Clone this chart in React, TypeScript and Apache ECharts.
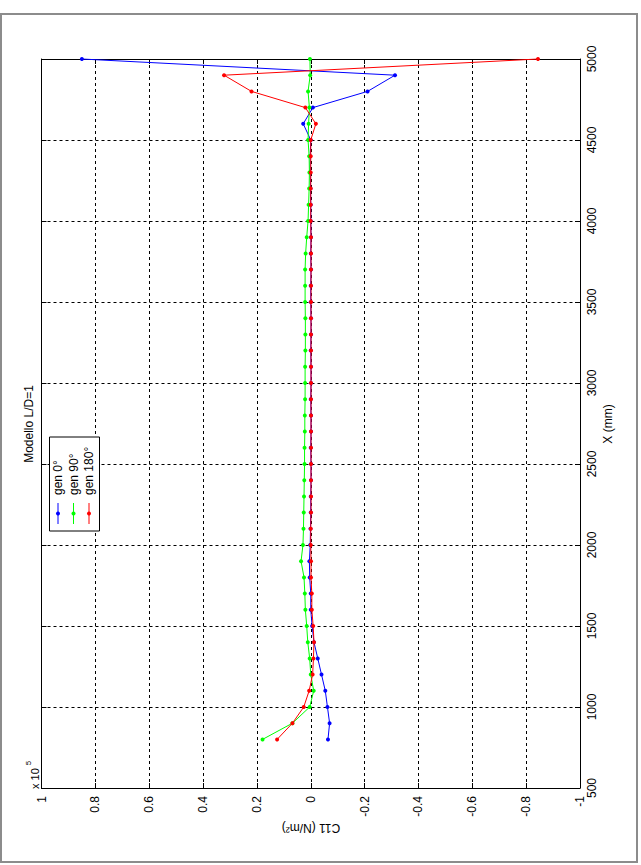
import React, { useEffect, useRef } from "react";
import * as echarts from "echarts";

// Position along the model, X (mm)
const X_MM = [
  800, 900, 1000, 1100, 1200, 1300, 1400, 1500, 1600, 1700, 1800, 1900, 2000,
  2100, 2200, 2300, 2400, 2500, 2600, 2700, 2800, 2900, 3000, 3100, 3200, 3300,
  3400, 3500, 3600, 3700, 3800, 3900, 4000, 4100, 4200, 4300, 4400, 4500, 4600,
  4700, 4800, 4900, 5000,
];

// C11 (N/m^2) x 10^5
const GEN0 = [
  -0.064, -0.07, -0.062, -0.054, -0.04, -0.026, -0.012, -0.005, 0.0, 0.0, 0.004,
  0.005, 0.002, 0.001, 0.0, 0.0, -0.001, -0.001, 0.0, -0.001, -0.001, 0.0,
  -0.001, -0.001, 0.0, -0.001, -0.001, 0.0, 0.0, -0.001, 0.0, -0.001, 0.0, 0.0,
  0.001, 0.002, 0.002, 0.0, 0.028, -0.008, -0.211, -0.313, 0.85,
];

const GEN90 = [
  0.179, 0.068, 0.004, -0.011, 0.0, 0.004, 0.011, 0.015, 0.02, 0.022, 0.025,
  0.036, 0.029, 0.027, 0.026, 0.025, 0.024, 0.023, 0.023, 0.022, 0.022, 0.021,
  0.021, 0.021, 0.02, 0.02, 0.02, 0.021, 0.021, 0.021, 0.019, 0.015, 0.01,
  0.008, 0.006, 0.005, 0.006, 0.01, 0.008, 0.005, 0.01, 0.002, 0.003,
];

const GEN180 = [
  0.125, 0.068, 0.026, 0.006, -0.007, -0.01, -0.012, -0.009, -0.004, -0.004,
  -0.001, -0.001, 0.0, 0.0, -0.001, -0.001, -0.001, -0.001, -0.001, -0.001,
  -0.001, -0.001, -0.001, -0.001, -0.001, -0.001, -0.001, -0.001, -0.001,
  -0.001, -0.001, -0.001, 0.0, 0.0, 0.0, 0.0, 0.0, 0.0, -0.019, 0.02, 0.22,
  0.322, -0.844,
];

const SERIES_NAMES = ["gen 0°", "gen 90°", "gen 180°"];
const SERIES_COLORS = ["#0000ff", "#00ff00", "#ff0000"];
const SERIES_VALUES = [GEN0, GEN90, GEN180];

const TITLE = "Modello L/D=1";
const X_NAME = "X (mm)";
const C_NAME = "C11 (N/m²)";

const FONT = "'Liberation Sans', Arial, Helvetica, sans-serif";

export default function App() {
  const ref = useRef<HTMLDivElement>(null);

  useEffect(() => {
    if (!ref.current) return;
    const chart = echarts.init(ref.current, undefined, { renderer: "svg" });

    const gridLine = { show: true, lineStyle: { color: "#000", width: 1, type: [3, 3] as any } };
    const axisLineStyle = { show: true, onZero: false, lineStyle: { color: "#000", width: 1 } };
    const tick = { show: true, inside: true, length: 5, lineStyle: { color: "#000" } };

    const legendItems: any[] = [
      { type: "rect", z: 100, shape: { x: 49.5, y: 437, width: 50, height: 94 }, style: { fill: "#fff", stroke: "#000", lineWidth: 1 } },
    ];
    const legendX = [58, 73.5, 89];
    SERIES_NAMES.forEach((name, i) => {
      legendItems.push(
        { type: "line", z: 101, shape: { x1: legendX[i], y1: 503, x2: legendX[i], y2: 524 }, style: { stroke: SERIES_COLORS[i], lineWidth: 1 } },
        { type: "circle", z: 102, shape: { cx: legendX[i], cy: 513.5, r: 2 }, style: { fill: SERIES_COLORS[i] } },
        {
          type: "text",
          z: 102,
          x: legendX[i],
          y: 495,
          rotation: Math.PI / 2,
          style: { text: name, fontSize: 12, fontFamily: FONT, fill: "#000", align: "left", verticalAlign: "middle" },
        }
      );
    });

    chart.setOption({
      animation: false,
      backgroundColor: "#fff",
      grid: { left: 41.5, right: 61, top: 59, bottom: 77, show: false, outerBoundsMode: "none" },
      xAxis: [
        {
          type: "value",
          position: "bottom",
          inverse: true,
          min: -1,
          max: 1,
          interval: 0.2,
          axisLine: axisLineStyle,
          axisTick: tick,
          splitLine: gridLine,
          axisLabel: {
            rotate: 90,
            margin: 8,
            fontSize: 12,
            fontFamily: FONT,
            color: "#000",
            formatter: (v: number) => String(Math.round(v * 10) / 10),
          },
        },
        {
          type: "value",
          position: "top",
          inverse: true,
          min: -1,
          max: 1,
          interval: 0.2,
          axisLine: axisLineStyle,
          axisTick: tick,
          splitLine: { show: false },
          axisLabel: { show: false },
        },
      ],
      yAxis: [
        {
          type: "value",
          position: "right",
          min: 500,
          max: 5000,
          interval: 500,
          axisLine: axisLineStyle,
          axisTick: tick,
          splitLine: gridLine,
          axisLabel: {
            rotate: 90,
            margin: 6,
            fontSize: 12,
            fontFamily: FONT,
            color: "#000",
            formatter: (v: number) => String(Math.round(v)),
          },
        },
        {
          type: "value",
          position: "left",
          min: 500,
          max: 5000,
          interval: 500,
          axisLine: axisLineStyle,
          axisTick: tick,
          splitLine: { show: false },
          axisLabel: { show: false },
        },
      ],
      series: SERIES_VALUES.map((vals, i) => ({
        name: SERIES_NAMES[i],
        type: "line",
        xAxisIndex: 0,
        yAxisIndex: 0,
        data: X_MM.map((x, k) => [vals[k], x]),
        symbol: "circle",
        symbolSize: 4,
        clip: false,
        color: SERIES_COLORS[i],
        lineStyle: { color: SERIES_COLORS[i], width: 1 },
        itemStyle: { color: SERIES_COLORS[i] },
        z: 3 + i,
      })),
      graphic: [
        { type: "rect", z: -1, shape: { x: 1, y: 14, width: 636, height: 848 }, style: { fill: "none", stroke: "#8c8c8c", lineWidth: 2 } },
        {
          type: "text",
          x: 29,
          y: 424,
          rotation: Math.PI / 2,
          style: { text: TITLE, fontSize: 12, fontFamily: FONT, fill: "#000", align: "center", verticalAlign: "middle" },
        },
        {
          type: "text",
          x: 608,
          y: 424,
          rotation: Math.PI / 2,
          style: { text: X_NAME, fontSize: 12, fontFamily: FONT, fill: "#000", align: "center", verticalAlign: "middle" },
        },
        {
          type: "text",
          x: 311,
          y: 828,
          rotation: Math.PI,
          style: { text: C_NAME, fontSize: 12, fontFamily: FONT, fill: "#000", align: "center", verticalAlign: "middle" },
        },
        {
          type: "text",
          x: 35,
          y: 789,
          rotation: Math.PI / 2,
          style: { text: "x 10", fontSize: 11, fontFamily: FONT, fill: "#000", align: "left", verticalAlign: "middle" },
        },
        {
          type: "text",
          x: 28,
          y: 763,
          rotation: Math.PI / 2,
          style: { text: "5", fontSize: 8, fontFamily: FONT, fill: "#000", align: "center", verticalAlign: "middle" },
        },
        ...legendItems,
      ],
    });

    return () => chart.dispose();
  }, []);

  return (
    <div
      ref={ref}
      style={{ position: "fixed", left: 0, top: 0, width: 641, height: 865, background: "#fff" }}
    />
  );
}
